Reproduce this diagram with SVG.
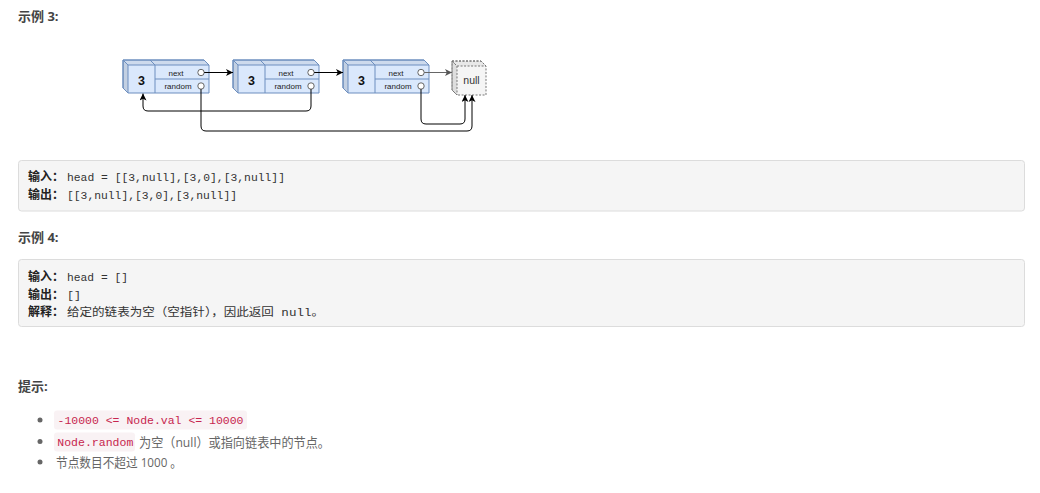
<svg xmlns="http://www.w3.org/2000/svg" width="1040" height="493" viewBox="0 0 1040 493">
<defs>
<style>
.h{font-family:"Open Sans","Noto Sans CJK SC",sans-serif;font-size:13px;font-weight:bold;fill:#444}
.lb{font-family:"Noto Sans CJK SC",sans-serif;font-size:12px;font-weight:bold;fill:#222}
.code{font-family:"Liberation Mono","Noto Sans CJK SC",monospace;font-size:11.5px;fill:#333}
.box{fill:#f5f5f5;stroke:#dcdcdc;stroke-width:1}
.li{font-family:"Open Sans","Noto Sans CJK SC",sans-serif;font-size:13px;fill:#666}
.ic{fill:#f9f2f4}
.ict{font-family:"Liberation Mono",monospace;font-size:11.5px;fill:#c7254e}
.cube{fill:#dae8fc;stroke:#6c8ebf;stroke-width:1}
.shade{fill:#000;fill-opacity:0.06;stroke:#6c8ebf;stroke-width:1}
.shade2{fill:#000;fill-opacity:0.1;stroke:#6c8ebf;stroke-width:1}
.ln{fill:none;stroke:#6c8ebf;stroke-width:1}
.pt{fill:#fff;stroke:#666;stroke-width:1}
.val{font-family:"Liberation Sans",sans-serif;font-size:12.5px;font-weight:bold;fill:#111;text-anchor:middle}
.fld{font-family:"Liberation Sans",sans-serif;font-size:8px;fill:#222;text-anchor:middle}
.con{fill:none;stroke:#000;stroke-width:1}
</style>
<marker id="ah" markerWidth="7" markerHeight="7" refX="7" refY="3.5" orient="auto" markerUnits="userSpaceOnUse">
<path d="M0,0 L7,3.5 L0,7 L1.8,3.5 z" fill="#000"/>
</marker>
<marker id="ahg" markerWidth="7" markerHeight="7" refX="7" refY="3.5" orient="auto" markerUnits="userSpaceOnUse">
<path d="M0,0 L7,3.5 L0,7 L1.8,3.5 z" fill="#555"/>
</marker>
<g id="nodeShape">
<path class="cube" d="M0,0 h81 l5,5 v28 h-81 l-5,-5 z"/>
<path class="shade" d="M0,0 h81 l5,5 h-81 z"/>
<path class="shade2" d="M0,0 l5,5 v28 l-5,-5 z"/>
<path class="ln" d="M27,0 L32,5 V33 M32,19 H86"/>
<circle class="pt" cx="78" cy="12.5" r="3.2"/>
<circle class="pt" cx="78" cy="26" r="3.2"/>
<text class="val" x="18.5" y="24.5">3</text>
<text class="fld" x="53" y="15.5">next</text>
<text class="fld" x="55" y="29">random</text>
</g>
</defs>

<text class="h" x="18" y="21">示例 3:</text>

<g id="node1" transform="translate(123,60)"><use href="#nodeShape"/></g>
<g id="node2" transform="translate(233,60)"><use href="#nodeShape"/></g>
<g id="node3" transform="translate(343,60)"><use href="#nodeShape"/></g>
<g id="nullNode">
<path d="M452,61 h29 l5,5 v29 h-29 l-5,-5 z" fill="#f5f5f5" stroke="#777" stroke-dasharray="2,1.5"/>
<path d="M452,61 h29 l5,5 h-29 z" fill="#000" fill-opacity="0.05" stroke="#777" stroke-dasharray="2,1.5"/>
<path d="M452,61 l5,5 v29 l-5,-5 z" fill="#000" fill-opacity="0.09" stroke="#777" stroke-dasharray="2,1.5"/>
<text x="471.5" y="84" font-family="Liberation Sans,sans-serif" font-size="10.5" fill="#333" text-anchor="middle">null</text>
</g>

<g id="connectors">
<path class="con" d="M204.2,72.5 H233" marker-end="url(#ah)"/>
<path class="con" d="M314.2,72.5 H343" marker-end="url(#ah)"/>
<path d="M424.2,72.5 H452" fill="none" stroke="#666" marker-end="url(#ahg)"/>
<path class="con" d="M311,89.2 V106 Q311,111 306,111 H148 Q143,111 143,106 V93.5" marker-end="url(#ah)"/>
<path class="con" d="M201,89.2 V126 Q201,131 206,131 H467 Q472,131 472,126 V95" marker-end="url(#ah)"/>
<path class="con" d="M421,89.2 V119 Q421,124 426,124 H460 Q465,124 465,119 V95" marker-end="url(#ah)"/>
</g>

<rect class="box" x="18.5" y="160.5" width="1006" height="50.5" rx="3"/>
<text class="lb" x="28" y="181">输入：</text>
<text class="code" x="67" y="181" textLength="218" lengthAdjust="spacingAndGlyphs">head = [[3,null],[3,0],[3,null]]</text>
<text class="lb" x="28" y="198.5">输出：</text>
<text class="code" x="67" y="198.5" textLength="170" lengthAdjust="spacingAndGlyphs">[[3,null],[3,0],[3,null]]</text>

<text class="h" x="18" y="241.5">示例 4:</text>

<rect class="box" x="18.5" y="259.5" width="1006" height="67" rx="3"/>
<text class="lb" x="28" y="281">输入：</text>
<text class="code" x="67" y="281" textLength="61" lengthAdjust="spacingAndGlyphs">head = []</text>
<text class="lb" x="28" y="298.5">输出：</text>
<text class="code" x="67" y="298.5" textLength="14" lengthAdjust="spacingAndGlyphs">[]</text>
<text class="lb" x="28" y="316">解释：</text>
<text class="code" x="67" y="316" textLength="257" lengthAdjust="spacingAndGlyphs">给定的链表为空（空指针），因此返回 null。</text>

<text class="h" x="18" y="391">提示:</text>

<circle cx="40" cy="420" r="2.5" fill="#666"/>
<rect class="ic" x="54" y="410.5" width="193" height="19" rx="3"/>
<text class="ict" x="57.5" y="424" textLength="186" lengthAdjust="spacingAndGlyphs">-10000 &lt;= Node.val &lt;= 10000</text>

<circle cx="40" cy="441.5" r="2.5" fill="#666"/>
<rect class="ic" x="54" y="432.5" width="81" height="19" rx="3"/>
<text class="ict" x="57.3" y="446" textLength="76" lengthAdjust="spacingAndGlyphs">Node.random</text>
<text class="li" x="139" y="446.5" textLength="191" lengthAdjust="spacingAndGlyphs">为空（null）或指向链表中的节点。</text>

<circle cx="40" cy="462" r="2.5" fill="#666"/>
<text class="li" x="56" y="467" textLength="126" lengthAdjust="spacingAndGlyphs">节点数目不超过 1000 。</text>
</svg>
